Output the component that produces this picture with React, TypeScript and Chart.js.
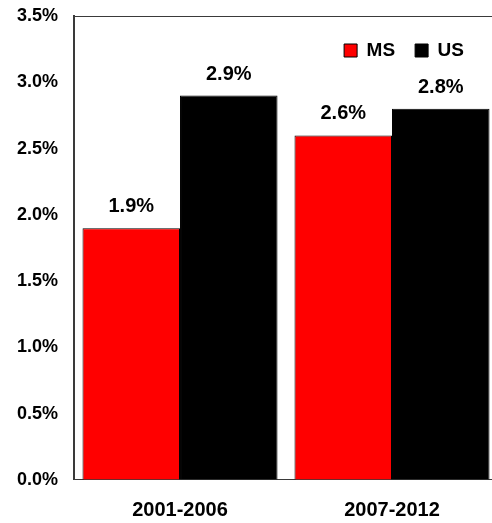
import React, { useEffect, useRef } from 'react';
import { Chart, registerables } from 'chart.js';

Chart.register(...registerables);

const categories = ['2001-2006', '2007-2012'];
const seriesNames = ['MS', 'US'];
const msValues = [1.9, 2.6];
const usValues = [2.9, 2.8];
const seriesColors = ['#ff0000', '#000000'];
const yTickLabels = ['0.0%', '0.5%', '1.0%', '1.5%', '2.0%', '2.5%', '3.0%', '3.5%'];

const FONT = "'Liberation Sans', Arial, sans-serif";
const FRAME = '#3a3a3a';

const legendPos = {
  id: 'legendPos',
  afterLayout(chart: any) {
    const lg = chart.legend;
    if (!lg) return;
    lg.left = chart.chartArea.left;
    lg.right = 484;
    lg.top = 21;
    lg.bottom = 61;
    lg.width = lg.right - lg.left;
    lg.height = lg.bottom - lg.top;
  },
};

const valueLabels = {
  id: 'valueLabels',
  afterDatasetsDraw(chart: any) {
    const ctx = chart.ctx;
    ctx.save();
    ctx.font = `bold 20px ${FONT}`;
    ctx.fillStyle = '#000';
    ctx.textAlign = 'center';
    ctx.textBaseline = 'alphabetic';
    chart.data.datasets.forEach((ds: any, i: number) => {
      const meta = chart.getDatasetMeta(i);
      meta.data.forEach((el: any, j: number) => {
        ctx.fillText(ds.data[j].toFixed(1) + '%', el.x, el.y - 16);
      });
    });
    ctx.restore();
  },
};

export default function App() {
  const ref = useRef<HTMLCanvasElement>(null);
  useEffect(() => {
    if (!ref.current) return;
    Chart.defaults.font.family = FONT;
    const chart = new Chart(ref.current, {
      type: 'bar',
      data: {
        labels: categories,
        datasets: [
          {
            label: seriesNames[0],
            data: msValues,
            backgroundColor: seriesColors[0],
            borderColor: '#000',
            borderWidth: 1,
          },
          {
            label: seriesNames[1],
            data: usValues,
            backgroundColor: seriesColors[1],
            borderColor: '#000',
            borderWidth: 1,
          },
        ],
      },
      options: {
        animation: false,
        responsive: false,
        devicePixelRatio: 1,
        layout: { padding: { top: 6, left: 1, right: 2, bottom: -17 } },
        datasets: { bar: { barPercentage: 1, categoryPercentage: 0.92 } },
        plugins: {
          legend: {
            position: 'top',
            align: 'end',
            maxHeight: 0.001,
            labels: {
              color: '#000',
              font: { family: FONT, size: 19, weight: 'bold' },
              boxWidth: 13,
              boxHeight: 13,
              padding: 20,
            },
          },
          tooltip: { enabled: false },
        },
        scales: {
          x: {
            grid: { display: false, drawTicks: false },
            border: { display: true, color: FRAME, width: 1 },
            ticks: {
              color: '#000',
              font: { family: FONT, size: 20, weight: 'bold' },
              padding: 18,
            },
          },
          y: {
            min: 0,
            max: 3.5,
            grid: {
              display: true,
              drawTicks: false,
              color: (c: any) => (c.tick && c.tick.value === 3.5 ? FRAME : 'rgba(0,0,0,0)'),
            },
            border: { display: true, color: FRAME, width: 2 },
            ticks: {
              stepSize: 0.5,
              color: '#000',
              font: { family: FONT, size: 18, weight: 'bold', lineHeight: 0.01 },
              padding: 16,
              callback: (_v: any, i: number) => yTickLabels[i],
            },
          },
        },
      },
      plugins: [legendPos, valueLabels],
    });
    return () => chart.destroy();
  }, []);
  return (
    <div style={{ position: 'fixed', left: 0, top: 0, width: 492, height: 523, overflow: 'hidden', background: '#fff' }}>
      <canvas ref={ref} width={500} height={523} style={{ display: 'block' }} />
    </div>
  );
}
